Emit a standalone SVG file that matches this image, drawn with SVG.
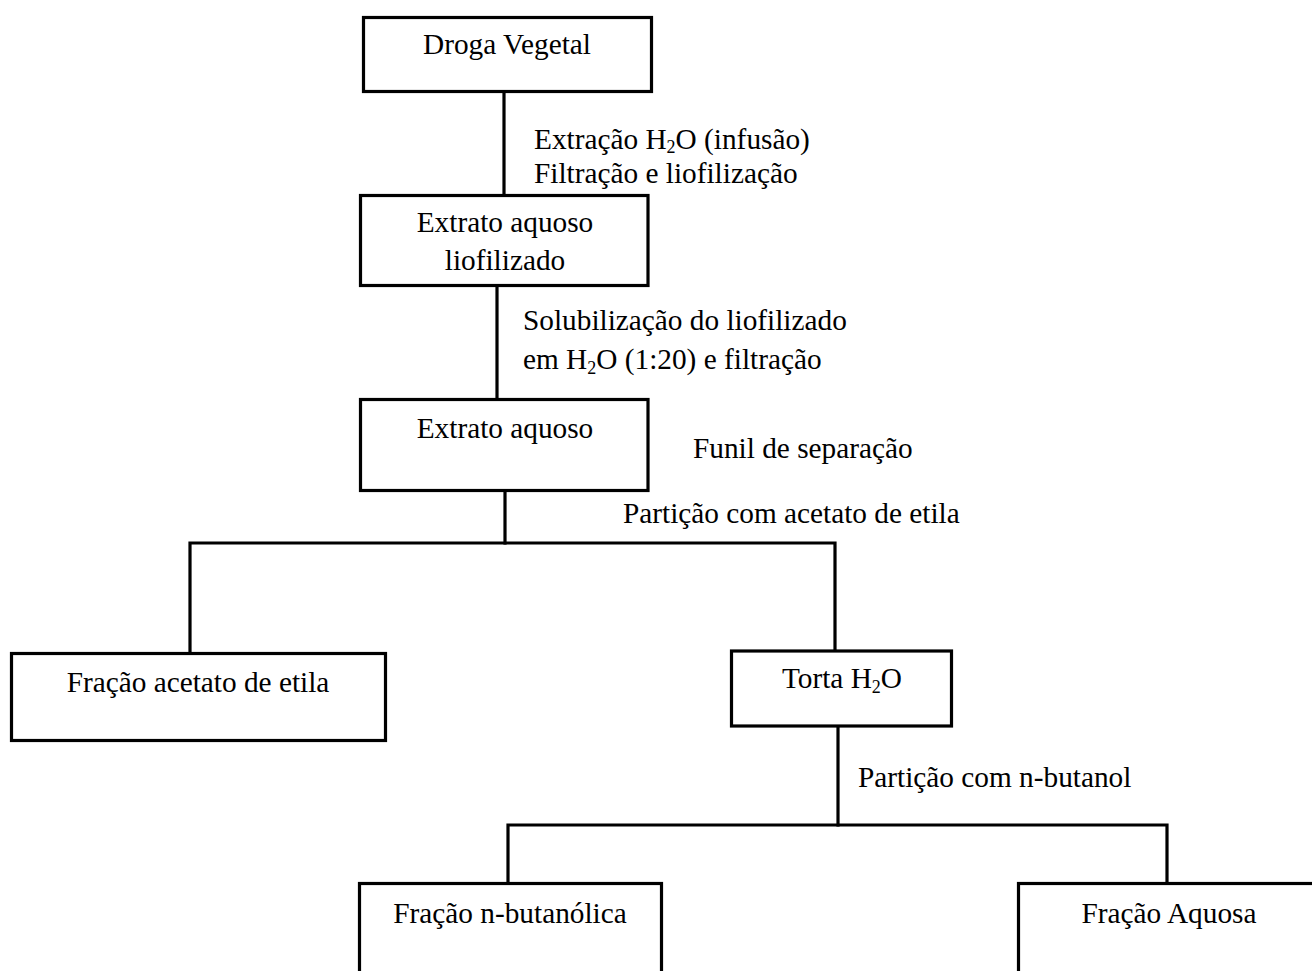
<svg xmlns="http://www.w3.org/2000/svg" width="1312" height="971" viewBox="0 0 1312 971">
<style>
.box{fill:#fff;stroke:#000;stroke-width:3.2;stroke-linejoin:miter}
.ln{fill:none;stroke:#000;stroke-width:3.2;stroke-linecap:square}
text{font-family:"Liberation Serif","Times New Roman",serif;font-size:29.3px;fill:#000}
.c{text-anchor:middle}
.sub{font-size:18px}
</style>
<rect width="1312" height="971" fill="#fff"/>
<g id="connectors">
<line class="ln" x1="504" y1="93" x2="504" y2="194"/>
<line class="ln" x1="497" y1="287" x2="497" y2="398"/>
<line class="ln" x1="505" y1="492" x2="505" y2="543"/>
<polyline class="ln" points="190,652 190,543 835,543 835,650"/>
<line class="ln" x1="838" y1="727" x2="838" y2="825"/>
<polyline class="ln" points="508,882 508,825 1167,825 1167,882"/>
</g>
<g id="labels">
<text x="534" y="148.5">Extração H<tspan class="sub" dy="4.5">2</tspan><tspan dy="-4.5">O (infusão)</tspan></text>
<text x="534" y="183">Filtração e liofilização</text>
<text x="523" y="330">Solubilização do liofilizado</text>
<text x="523" y="369">em H<tspan class="sub" dy="4.5">2</tspan><tspan dy="-4.5">O (1:20) e filtração</tspan></text>
<text x="693" y="458">Funil de separação</text>
<text x="623" y="523">Partição com acetato de etila</text>
<text x="858" y="787">Partição com n-butanol</text>
</g>
<g id="node-droga">
<rect class="box" x="363.5" y="17.5" width="288" height="74"/>
<text class="c" x="507" y="54">Droga Vegetal</text>
</g>
<g id="node-extrato-liof">
<rect class="box" x="360.5" y="195.5" width="287.5" height="90"/>
<text class="c" x="505" y="232">Extrato aquoso</text>
<text class="c" x="505" y="270">liofilizado</text>
</g>
<g id="node-extrato">
<rect class="box" x="360.5" y="399.5" width="287.5" height="91"/>
<text class="c" x="505" y="438">Extrato aquoso</text>
</g>
<g id="node-acetato">
<rect class="box" x="11.5" y="653.5" width="374" height="87"/>
<text class="c" x="198" y="692">Fração acetato de etila</text>
</g>
<g id="node-torta">
<rect class="box" x="731.5" y="651" width="220" height="75"/>
<text class="c" x="842" y="688">Torta H<tspan class="sub" dy="4.5">2</tspan><tspan dy="-4.5">O</tspan></text>
</g>
<g id="node-butanolica">
<rect class="box" x="359.5" y="883.5" width="302" height="120"/>
<text class="c" x="510" y="923">Fração n-butanólica</text>
</g>
<g id="node-aquosa">
<rect class="box" x="1018.5" y="883.5" width="320" height="120"/>
<text class="c" x="1169" y="923">Fração Aquosa</text>
</g>
</svg>
